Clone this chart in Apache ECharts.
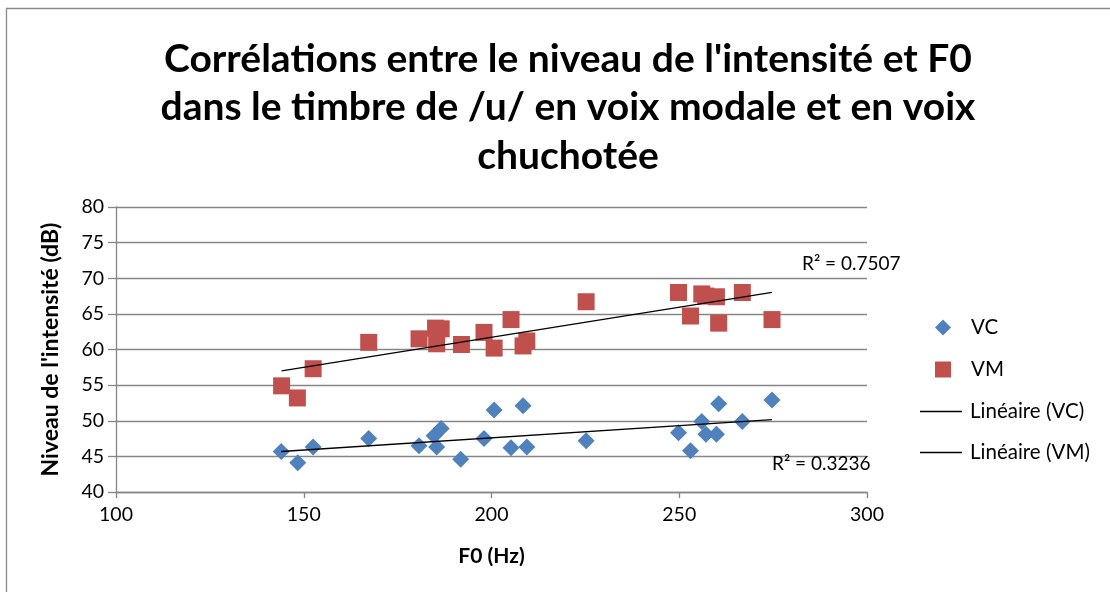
<!DOCTYPE html>
<html>
<head>
<meta charset="utf-8">
<script src="https://cdn.jsdelivr.net/npm/echarts@6/dist/echarts.min.js"></script>
<style>
  html, body { margin: 0; padding: 0; background: #fff; }
  #chart { width: 1110px; height: 592px; }
</style>
</head>
<body>
<div id="chart"></div>
<script>
// F0 (Hz) of each whispered token
const vcF0 = [144.0, 148.4, 152.5, 167.3, 180.7, 184.7, 185.4, 186.6, 191.8, 198.0, 200.7,
              205.2, 208.4, 209.4, 225.2, 249.8, 253.0, 256.0, 257.1, 259.9, 260.5, 266.8, 274.7];
// intensity (dB), whispered voice
const vcDb = [45.7, 44.1, 46.3, 47.5, 46.5, 47.9, 46.3, 48.9, 44.6, 47.5, 51.5,
              46.2, 52.1, 46.3, 47.2, 48.3, 45.8, 49.9, 48.1, 48.1, 52.4, 49.9, 52.9];
// F0 (Hz) of each modal token
const vmF0 = [144.1, 148.3, 152.5, 167.3, 180.7, 185.1, 186.6, 185.4, 192.0, 198.0, 200.7,
              205.2, 208.4, 209.4, 225.2, 249.8, 253.0, 256.0, 257.1, 259.9, 260.5, 266.8, 274.7];
// intensity (dB), modal voice
const vmDb = [54.9, 53.2, 57.3, 61.0, 61.5, 63.0, 62.9, 60.8, 60.7, 62.4, 60.2,
              64.2, 60.5, 61.2, 66.7, 68.0, 64.7, 67.8, 67.5, 67.4, 63.7, 68.0, 64.2];

const seriesNames = ['VC', 'VM', 'Linéaire (VC)', 'Linéaire (VM)'];
const r2Labels = ['R² = 0.3236', 'R² = 0.7507'];
const xTicks = [100, 300, 50];   // min, max, interval
const yTicks = [40, 80, 5];

function pairs(xs, ys) { return xs.map((x, i) => [x, ys[i]]); }

// least-squares line over the observed F0 range
function linFit(xs, ys) {
  const n = xs.length;
  const mx = xs.reduce((a, b) => a + b, 0) / n;
  const my = ys.reduce((a, b) => a + b, 0) / n;
  let sxy = 0, sxx = 0;
  for (let i = 0; i < n; i++) { sxy += (xs[i] - mx) * (ys[i] - my); sxx += (xs[i] - mx) ** 2; }
  const b = sxy / sxx, a = my - b * mx;
  const x0 = Math.min(...xs), x1 = Math.max(...xs);
  return [[x0, a + b * x0], [x1, a + b * x1]];
}

const vcFit = linFit(vcF0, vcDb);
const vmFit = linFit(vmF0, vmDb);

const font = 'Lato, "Open Sans", sans-serif';
const axisGrey = '#868686';
const chart = echarts.init(document.getElementById('chart'), null, { renderer: 'canvas' });

chart.setOption({
  backgroundColor: '#fff',
  animation: false,
  graphic: [{
    type: 'rect', shape: { x: 6.5, y: 8.5, width: 1200, height: 700 },
    style: { fill: 'none', stroke: '#8a8a8a', lineWidth: 1.3 }, silent: true
  }],
  title: {
    text: 'Corrélations entre le niveau de l\'intensité et F0\ndans le timbre de /u/ en voix modale et en voix\nchuchotée',
    left: 563, top: 30, textAlign: 'center',
    textStyle: { fontFamily: font, fontSize: 39, fontWeight: 'bold', color: '#000', lineHeight: 48.5 }
  },
  grid: { left: 116, right: 243, top: 207, bottom: 100, containLabel: false },
  legend: [
    {
      orient: 'vertical', left: 935, top: 317, padding: 0,
      itemWidth: 16, itemHeight: 16, itemGap: 21,
      textStyle: { fontFamily: font, fontSize: 20.5, color: '#000', padding: [0, 0, 0, 15] },
      data: [
        { name: seriesNames[0], icon: 'diamond' },
        { name: seriesNames[1], icon: 'rect' }
      ]
    },
    {
      orient: 'vertical', left: 920, top: 401, padding: 0,
      itemWidth: 42, itemHeight: 16, itemGap: 20,
      textStyle: { fontFamily: font, fontSize: 20.5, color: '#000', padding: [0, 0, 0, 3] },
      data: [
        { name: seriesNames[2], icon: 'path://M0,0H42V1.3H0Z' },
        { name: seriesNames[3], icon: 'path://M0,0H42V1.3H0Z' }
      ]
    }
  ],
  xAxis: {
    type: 'value', min: xTicks[0], max: xTicks[1], interval: xTicks[2],
    name: 'F0 (Hz)', nameLocation: 'middle', nameGap: 54,
    nameTextStyle: { fontFamily: font, fontSize: 21, fontWeight: 'bold', color: '#000' },
    axisLine: { lineStyle: { color: axisGrey, width: 1.3 } },
    axisTick: { show: true, length: 6, lineStyle: { color: axisGrey, width: 1.3 } },
    axisLabel: { fontFamily: font, fontSize: 19.5, color: '#000', margin: 13 },
    splitLine: { show: false }
  },
  yAxis: {
    type: 'value', min: yTicks[0], max: yTicks[1], interval: yTicks[2],
    name: 'Niveau de l\'intensité (dB)', nameLocation: 'middle', nameGap: 54, nameRotate: 90,
    nameTextStyle: { fontFamily: font, fontSize: 23, fontWeight: 'bold', color: '#000' },
    axisLine: { show: true, lineStyle: { color: axisGrey, width: 1.3 } },
    axisTick: { show: true, inside: false, length: 8, lineStyle: { color: axisGrey, width: 1.3 } },
    axisLabel: { fontFamily: font, fontSize: 19.5, color: '#000', margin: 12 },
    splitLine: { show: true, lineStyle: { color: axisGrey, width: 1.3 } }
  },
  series: [
    {
      name: seriesNames[0], type: 'scatter', symbol: 'diamond', symbolSize: 17,
      itemStyle: { color: '#4F81BD', opacity: 1 }, data: pairs(vcF0, vcDb), z: 2
    },
    {
      name: seriesNames[1], type: 'scatter', symbol: 'rect', symbolSize: 17,
      itemStyle: { color: '#C0504D', opacity: 1 }, data: pairs(vmF0, vmDb), z: 2
    },
    {
      name: seriesNames[2], type: 'line', showSymbol: false, symbol: 'none', z: 3,
      color: '#000', lineStyle: { color: '#000', width: 1.3 }, data: vcFit
    },
    {
      name: seriesNames[3], type: 'line', showSymbol: false, symbol: 'none', z: 3,
      color: '#000', lineStyle: { color: '#000', width: 1.3 }, data: vmFit
    },
    // R² annotations anchored at the right end of each trend line
    {
      name: 'r2', type: 'scatter', symbolSize: 0, silent: true, z: 4,
      itemStyle: { opacity: 1, color: '#000' },
      data: [
        { value: vcFit[1], label: { show: true, formatter: r2Labels[0], position: [0, 44] } },
        { value: vmFit[1], label: { show: true, formatter: r2Labels[1], position: [30, -29] } }
      ],
      label: { fontFamily: font, fontSize: 19, color: '#000', opacity: 1, align: 'left', verticalAlign: 'middle' }
    }
  ]
});
</script>
</body>
</html>
